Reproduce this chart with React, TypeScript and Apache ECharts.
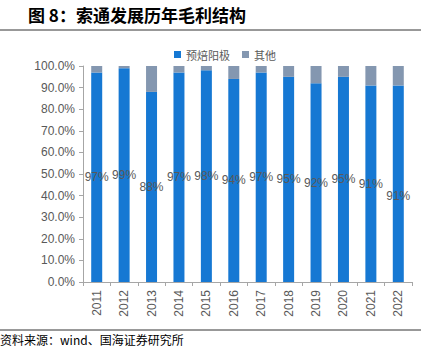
import React, { useEffect, useRef } from "react";
import * as echarts from "echarts";

const categories = ["2011", "2012", "2013", "2014", "2015", "2016", "2017", "2018", "2019", "2020", "2021", "2022"];
const anodeShare = [97, 99, 88, 97, 98, 94, 97, 95, 92, 95, 91, 91];
const otherShare = [3, 1, 12, 3, 2, 6, 3, 5, 8, 5, 9, 9];
const labelTexts = ["97%", "99%", "88%", "97%", "98%", "94%", "97%", "95%", "92%", "95%", "91%", "91%"];

export default function App() {
  const ref = useRef<HTMLDivElement>(null);
  useEffect(() => {
    if (!ref.current) return;
    const chart = echarts.init(ref.current, null, { renderer: "svg" });
    const font = "'Liberation Sans', Arial, sans-serif";
    chart.setOption({
      animation: false,
      backgroundColor: "#fff",
      graphic: [
        {
          type: "text",
          left: 28,
          top: 6,
          style: {
            text: "图 8：索通发展历年毛利结构",
            font: "bold 17px 'Noto Sans CJK SC'",
            fill: "#000",
          },
        },
        {
          type: "line",
          shape: { x1: 0, y1: 30, x2: 421, y2: 30 },
          style: { stroke: "#333", lineWidth: 1 },
        },
        {
          type: "line",
          shape: { x1: 0, y1: 330, x2: 421, y2: 330 },
          style: { stroke: "#333", lineWidth: 1 },
        },
        {
          type: "text",
          left: 0,
          top: 333,
          style: {
            text: "资料来源：wind、国海证券研究所",
            font: "12px 'Noto Sans CJK SC'",
            fill: "#000",
          },
        },
      ],
      legend: {
        top: 44,
        left: 169,
        itemWidth: 7,
        itemHeight: 7,
        itemGap: 12,
        icon: "rect",
        textStyle: { fontSize: 11, color: "#595959", fontFamily: "'Noto Sans CJK SC'" },
        data: ["预焙阳极", "其他"],
      },
      grid: { left: 83, right: 21, top: 66, bottom: 73, containLabel: false },
      xAxis: {
        type: "category",
        data: categories,
        axisLine: { lineStyle: { color: "#A6A6A6" } },
        axisTick: { show: true, length: 4, lineStyle: { color: "#A6A6A6" } },
        axisLabel: {
          rotate: 90,
          color: "#595959",
          fontSize: 12,
          fontFamily: font,
          margin: 8,
        },
      },
      yAxis: {
        type: "value",
        min: 0,
        max: 100,
        interval: 10,
        axisLine: { show: true, lineStyle: { color: "#A6A6A6" } },
        axisTick: { show: true, length: 4, lineStyle: { color: "#A6A6A6" } },
        splitLine: { show: false },
        axisLabel: {
          color: "#595959",
          fontSize: 12,
          fontFamily: font,
          margin: 8,
          formatter: (v: number) => v.toFixed(1) + "%",
        },
      },
      series: [
        {
          name: "预焙阳极",
          type: "bar",
          stack: "total",
          barWidth: 11,
          itemStyle: { color: "#1678D3" },
          data: anodeShare.map((v, i) => ({
            value: v,
            label: i === 11 ? { offset: [0, 12] } : {},
          })),
          label: {
            show: true,
            position: "inside",
            color: "#595959",
            fontSize: 12,
            fontFamily: font,
            formatter: (p: any) => labelTexts[p.dataIndex],
          },
        },
        {
          name: "其他",
          type: "bar",
          stack: "total",
          barWidth: 11,
          itemStyle: { color: "#8497B0" },
          data: otherShare,
        },
      ],
    });
    return () => chart.dispose();
  }, []);
  return <div ref={ref} style={{ width: 433, height: 355, position: "absolute", left: 0, top: 0 }} />;
}
